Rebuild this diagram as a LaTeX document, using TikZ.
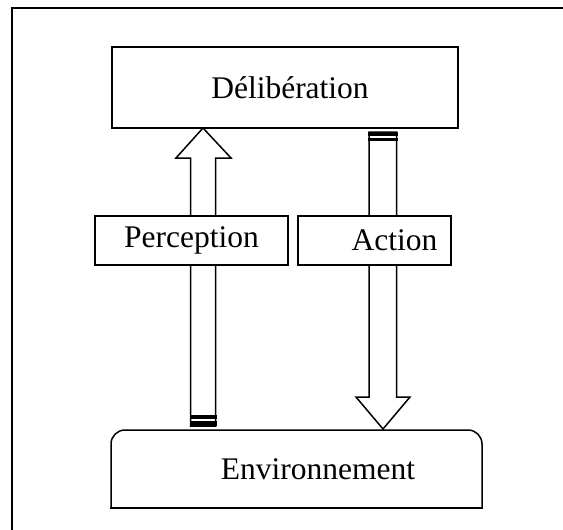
\documentclass[tikz,border=0pt]{standalone}
\usepackage{fontspec}
\setmainfont{Liberation Serif}
\tikzset{
  box/.style = {draw, fill = white, line width = 1.5pt, inner sep = 0pt},
  txt/.style = {font = \fontsize{31.5}{36}\selectfont}
}
\begin{document}
\begin{tikzpicture}[x=1pt, y=-1pt, line width=1.5pt, line join=miter]
  \useasboundingbox (0,0) rectangle (563,530);
  \clip (0,0) rectangle (563,530);
  \draw (12,8) rectangle (580,550);
  % fleches
  \draw[fill = white] (190.5,426) -- (190.5,158) -- (176,158) -- (203,128)
    -- (231,158) -- (215.5,158) -- (215.5,426) -- cycle;
  \draw[fill = white] (369,132) -- (369,397) -- (356,397) -- (383,429)
    -- (410,397) -- (396.5,397) -- (396.5,132) -- cycle;
  \foreach \a/\b/\l/\r in {415/419/189.5/216.5, 421/426/189.5/216.5,
                           132/136/368/397.5, 137.5/141/368/397.5}{
    \fill (\l,\a) rectangle (\r,\b);
  }
  % boites
  \node[box, txt, minimum width = 346pt, minimum height = 81pt] (delib)
    at (285,87.5) {\hspace*{10pt}Délibération};
  \node[box, txt, minimum width = 193pt, minimum height = 49pt] (percept)
    at (191.5,240.5) {Perception};
  \node[box, txt, minimum width = 153pt, minimum height = 49pt] (action)
    at (374.5,240.5) {\hspace*{40pt}Action};
  \draw[rounded corners = 14pt, line cap = rect]
    (111,508) -- (111,430) -- (482,430) -- (482,508);
  \draw[line cap = rect] (111,508) -- (482,508);
  \node[txt] (env) at (318,469) {Environnement};
\end{tikzpicture}
\end{document}
